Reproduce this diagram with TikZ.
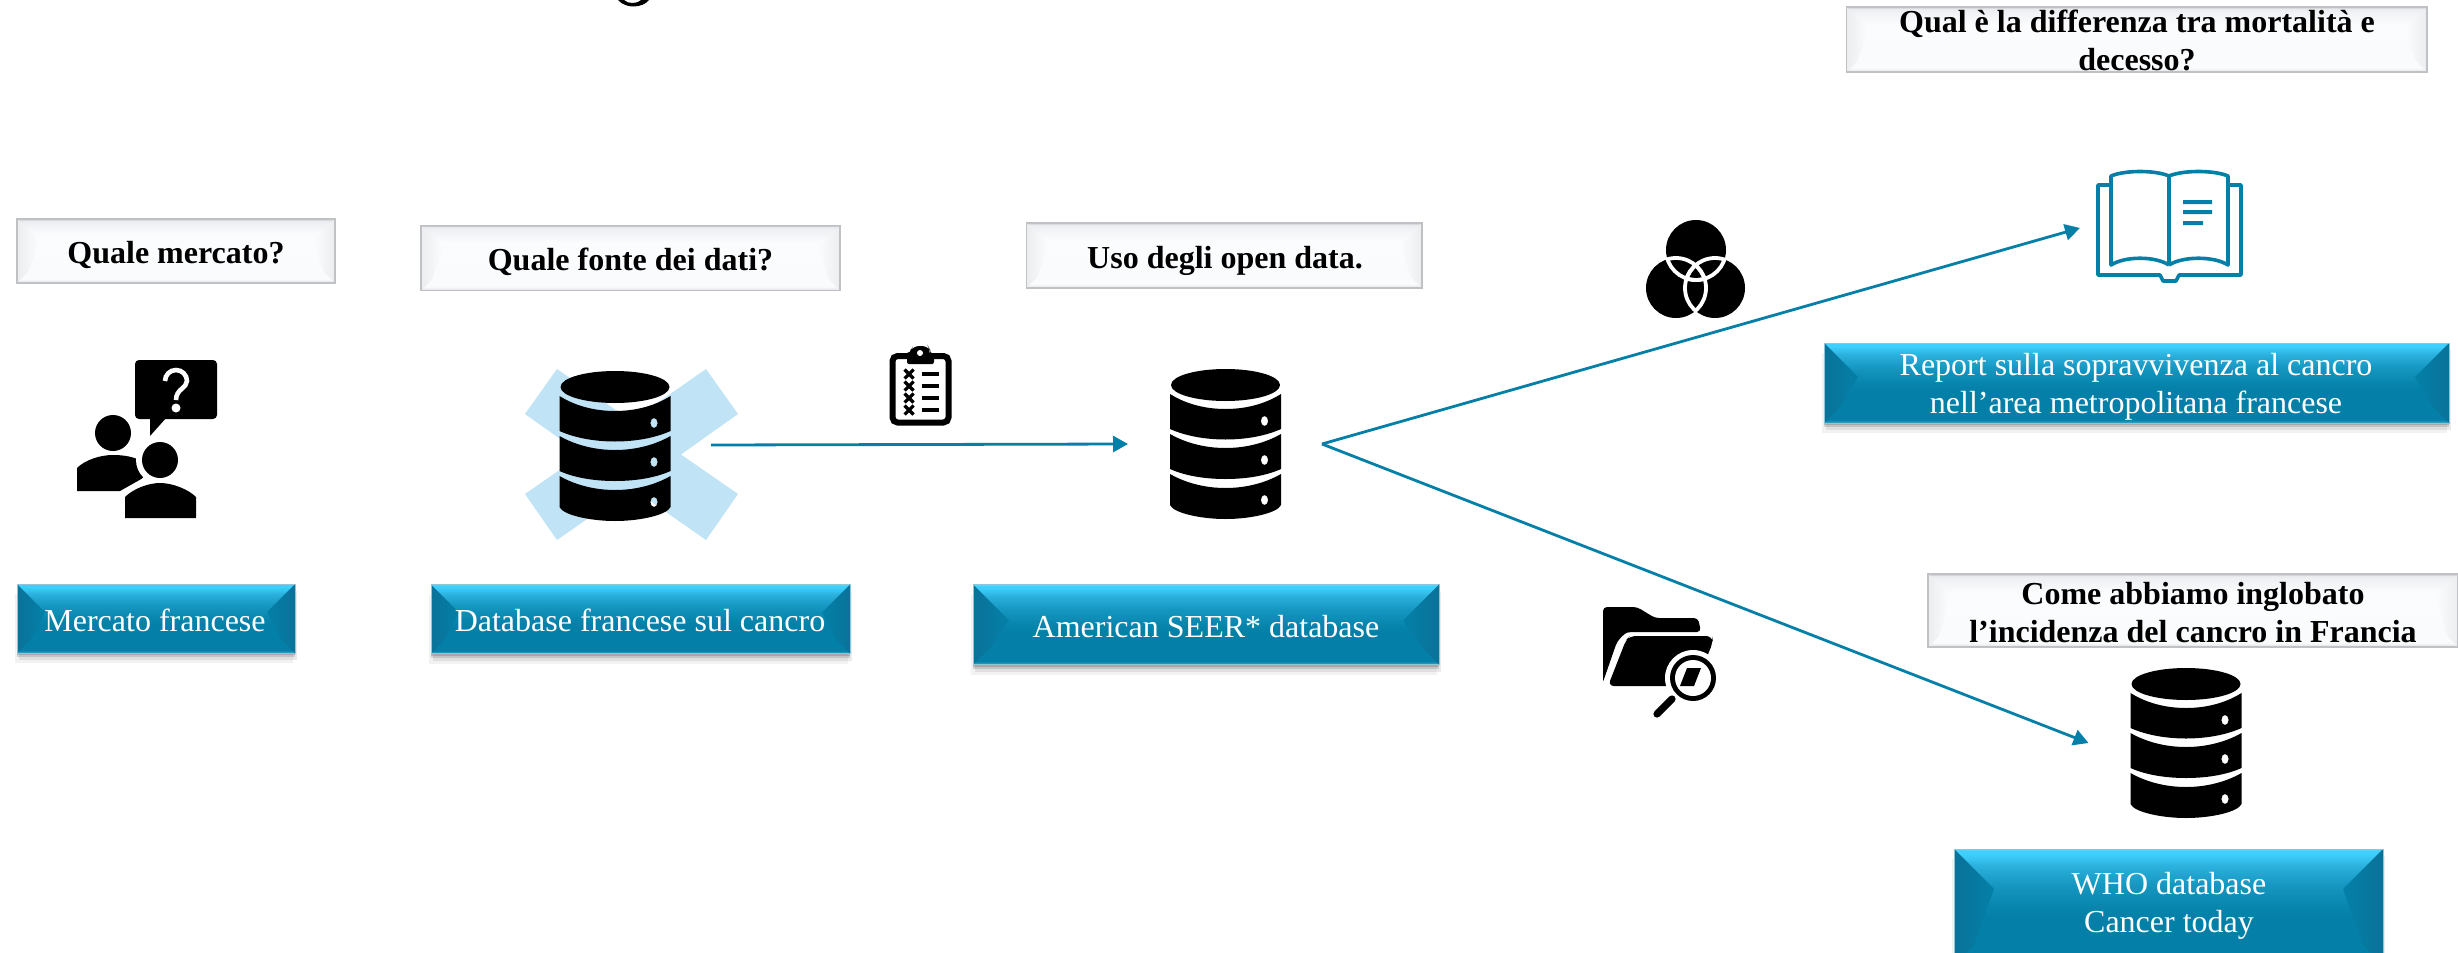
\documentclass[tikz,border=0pt]{standalone}
\usepackage{fontspec}
\setmainfont{Liberation Serif}
\usetikzlibrary{arrows.meta,shadows,calc}
\definecolor{mainblue}{HTML}{0480A8}
\definecolor{xblue}{HTML}{C0E3F6}
\definecolor{bbA}{HTML}{2CB2DE}
\definecolor{bbB}{HTML}{40D0FF}
\definecolor{bbC}{HTML}{90DDF0}
\definecolor{bbD}{HTML}{0A7299}
\definecolor{bbI}{HTML}{1698C2}
\definecolor{bbJ}{HTML}{0885AD}
\definecolor{bbK}{HTML}{2C9BC2}
\definecolor{wbA}{HTML}{C4C6CA}
\definecolor{wbB}{HTML}{E8E9EC}
\definecolor{wbC}{HTML}{FAFBFD}
\definecolor{wbD}{HTML}{FBFCFE}
\definecolor{wbE}{HTML}{EFF0F3}
\definecolor{wbF}{HTML}{E8E9EC}
\definecolor{wbG}{HTML}{AEB0B5}
\definecolor{wbH}{HTML}{ECEDEF}
\definecolor{wbI}{HTML}{BFC1C5}
\colorlet{bbH}{mainblue!45!white}
\pgfdeclareverticalshading{bluebev}{100bp}{
  color(0bp)=(bbK); color(25.6bp)=(bbK);
  color(27bp)=(mainblue);
  color(45bp)=(mainblue); color(50bp)=(bbJ); color(60bp)=(bbI);
  color(68bp)=(bbA); color(73bp)=(bbB); color(74.5bp)=(bbB);
  color(75bp)=(bbC); color(100bp)=(bbC)}
\pgfdeclareverticalshading{whitebev}{100bp}{
  color(0bp)=(wbA); color(25bp)=(wbA);
  color(26bp)=(wbB); color(28bp)=(wbC);
  color(62bp)=(wbD); color(72bp)=(wbE);
  color(74bp)=(wbF); color(75bp)=(wbG); color(100bp)=(wbG)}
\tikzset{
  x=0.5pt,y=-0.5pt,
  boxbase/.style={rectangle,inner sep=0pt,outer sep=0pt},
  bevelled/.style n args={3}{path picture={
      \coordinate (nw) at (path picture bounding box.north west);
      \coordinate (ne) at (path picture bounding box.north east);
      \coordinate (sw) at (path picture bounding box.south west);
      \coordinate (se) at (path picture bounding box.south east);
      \path[left color=#1,right color=#2]
        (nw) -- ($(nw)+(#3,-#3)$) -- ($(sw)+(#3*0.5,#3*0.5)$) -- (sw) -- cycle;
      \path[right color=#1,left color=#2]
        (ne) -- ($(ne)+(-#3,-#3)$) -- ($(se)+(-#3*0.5,#3*0.5)$) -- (se) -- cycle;
  }},
  bluebox/.style={boxbase,draw=bbH,line width=.5pt,shading=bluebev,
    bevelled={bbD}{mainblue}{#1},
    general shadow={shadow xshift=0pt,shadow yshift=-1pt,fill=black,opacity=.14},
    general shadow={shadow xshift=0pt,shadow yshift=-2pt,fill=black,opacity=.12},
    general shadow={shadow xshift=.8pt,shadow yshift=-3.5pt,fill=black,opacity=.08},
    general shadow={shadow xshift=-.8pt,shadow yshift=-5pt,fill=black,opacity=.05}},
  whitebox/.style={boxbase,draw=wbI,line width=.6pt,shading=whitebev,
    bevelled={wbH}{wbD}{11pt}},
  bluetext/.style={text=white,font=\fontsize{16}{19}\selectfont,align=center,anchor=base,inner sep=0pt},
  whitetext/.style={text=black,font=\fontsize{16}{19}\selectfont\bfseries,align=center,anchor=base,inner sep=0pt},
  flow/.style={draw=mainblue,line width=1.4pt,-{Triangle[length=7.5pt,width=8pt]}},
  icon/.style={fill=black,draw=none},
  pics/dbicon/.style={code={
    \path[icon,even odd rule]
      (0,16) ellipse [x radius=54.5,y radius=16]
      (-55.5,25) .. controls (-38,36) and (-18,40) .. (0,40) .. controls (18,40) and (38,36) .. (55.5,25)
        -- (55.5,60) .. controls (40,67) and (20,70.5) .. (0,70.5) .. controls (-20,70.5) and (-40,67) .. (-55.5,60) -- cycle
      (-55.5,65) .. controls (-38,75) and (-18,79) .. (0,79) .. controls (18,79) and (38,75) .. (55.5,65)
        -- (55.5,100) .. controls (40,107) and (20,110) .. (0,110) .. controls (-20,110) and (-40,107) .. (-55.5,100) -- cycle
      (-55.5,105) .. controls (-38,115) and (-18,119) .. (0,119) .. controls (18,119) and (38,115) .. (55.5,105)
        -- (55.5,136) .. controls (52,144) and (25,150) .. (0,150) .. controls (-25,150) and (-52,144) .. (-55.5,136) -- cycle
      (39,52) ellipse [x radius=3.6,y radius=5]
      (39,91) ellipse [x radius=3.6,y radius=5]
      (39,131) ellipse [x radius=3.6,y radius=5];
  }}
}
\begin{document}
\begin{tikzpicture}
\useasboundingbox (0,0) rectangle (2458,953);
\fill[white] (0,0) rectangle (2458,953);

% title remnant
\fill[black] (618,0) .. controls (622,4.5) and (628,6.5) .. (633,6.5) .. controls (640,6.5) and (646,4) .. (649,0)
  -- (641,0) .. controls (638,2.5) and (635,3) .. (632,3) .. controls (629,3) and (626,2) .. (624,0) -- cycle;

% question boxes
\node[whitebox,minimum width=159pt,minimum height=32pt] (q1) at (176,251) {};
\node[whitetext] (q1t) at (176,263) {Quale mercato?};
\node[whitebox,minimum width=209.5pt,minimum height=32.5pt] (q2) at (630.5,258) {};
\node[whitetext] (q2t) at (630.5,270) {Quale fonte dei dati?};
\node[whitebox,minimum width=197.75pt,minimum height=32.5pt] (q3) at (1224.25,255.5) {};
\node[whitetext] (q3t) at (1225,268) {Uso degli open data.};
\node[whitebox,minimum width=290.25pt,minimum height=32.5pt] (q4) at (2136.75,39.5) {};
\node[whitetext] (q4t) at (2137,70) {Qual è la differenza tra mortalità e\\decesso?};
\node[whitebox,minimum width=265pt,minimum height=36.5pt] (q5) at (2193,610.5) {};
\node[whitetext] (q5t) at (2193,642) {Come abbiamo inglobato\\l’incidenza del cancro in Francia};

% blue boxes
\node[bluebox=14pt,minimum width=139pt,minimum height=34.5pt] (b1) at (156,618.5) {};
\node[bluetext] (b1t) at (155,631) {Mercato francese};
\node[bluebox=14pt,minimum width=209.5pt,minimum height=34.5pt] (b2) at (640.5,619) {};
\node[bluetext] (b2t) at (640,631) {Database francese sul cancro};
\node[bluebox=18pt,minimum width=233pt,minimum height=40pt] (b3) at (1206,624.5) {};
\node[bluetext] (b3t) at (1206,637) {American SEER* database};
\node[bluebox=17pt,minimum width=312.5pt,minimum height=40pt] (b4) at (2136.5,383) {};
\node[bluetext] (b4t) at (2136,413) {Report sulla sopravvivenza al cancro\\nell’area metropolitana francese};
\node[bluebox=20pt,minimum width=214.5pt,minimum height=58pt] (b5) at (2168.5,907) {};
\node[bluetext] (b5t) at (2169,932) {WHO database\\Cancer today};

% people icon
\path[icon,rounded corners=2pt] (135,360) rectangle (217,419);
\path[icon] (150,417) -- (150,436) -- (167,417) -- cycle;
\draw[white,line width=2.3pt] (165,381) arc[start angle=180,end angle=360,radius=11] .. controls (187,388) and (176,389) .. (176,400);
\fill[white] (176,408) circle [radius=4.5];
\fill[black] (113,433) circle [radius=18];
\path[icon] (77,491) -- (77,468) .. controls (85,460) and (100,455) .. (113,455) .. controls (125,455) and (135,457) .. (143,462) -- (143,478) -- (120,491) -- cycle;
\fill[white] (160,460) circle [radius=24];
\fill[white] (120,500) -- (143,478) -- (160,476) -- (200,495) -- (160,505) -- cycle;
\fill[black] (160,460) circle [radius=18];
\path[icon] (125,518) -- (125,497) .. controls (133,489) and (148,483) .. (160,483) .. controls (172,483) and (188,489) .. (196,497) -- (196,518) -- cycle;

% crossed-out database
\fill[xblue] (557,369) -- (631.5,421) -- (706,369) -- (738,414) -- (681,454.5) -- (738,494) -- (706,540)
  -- (631.5,488) -- (557,540) -- (525,494) -- (582,454.5) -- (525,414) -- cycle;
\pic (db1) at (615,371) {dbicon};

% other databases
\pic (db2) at (1225.5,369) {dbicon};
\pic (db3) at (2186,668) {dbicon};

% clipboard
\draw[black,line width=3pt,rounded corners=2.5pt,fill=white] (892.5,356) rectangle (948.5,422.5);
\fill[black,rounded corners=2pt] (907,364) -- (907,353) -- (911,353) -- (911,350) [rounded corners=3pt] -- (913,346) -- (928,346) -- (930,350) [rounded corners=1pt] -- (930,353) -- (934,353) -- (934,364) -- cycle;
\fill[white] (920,353) circle [radius=3];
\foreach \cy in {374,386,398,410}{
  \draw[black,line width=1.6pt] (904.5,\cy-4.5) -- (913.5,\cy+4.5) (904.5,\cy+4.5) -- (913.5,\cy-4.5);
  \fill[black] (922,\cy-2) rectangle (939,\cy+2);
}

% venn icon
\coordinate (va) at (1696,250);
\coordinate (vb) at (1676,288);
\coordinate (vc) at (1715,288);
\fill[black] (va) circle [radius=30] (vb) circle [radius=30] (vc) circle [radius=30];
\foreach \p/\q in {va/vb,va/vc,vb/va,vb/vc,vc/va,vc/vb}{
  \begin{scope}
    \clip (\q) circle [radius=31];
    \draw[white,line width=1.9pt] (\p) circle [radius=30];
  \end{scope}
}

% book icon
\begin{scope}[draw=mainblue,line width=1.8pt,fill=none,line join=round]
  \draw (2111,185) -- (2098,185) -- (2098,275) -- (2160,275) -- (2163,281) -- (2176,281) -- (2179,275) -- (2241,275) -- (2241,185) -- (2228,185);
  \draw (2169,176) .. controls (2155,170) and (2125,170) .. (2111,176) -- (2111,265) .. controls (2125,256) and (2155,256) .. (2169,265);
  \draw (2169,176) .. controls (2183,170) and (2214,170) .. (2228,176) -- (2228,265) .. controls (2214,256) and (2183,256) .. (2169,265);
  \draw (2169,176) -- (2169,265);
\end{scope}
\fill[mainblue] (2183,200) rectangle (2212,204) (2183,210) rectangle (2212,214) (2183,221) rectangle (2203,225);

% folder icon
\fill[black,rounded corners=2pt] (1603,682) -- (1603,607) -- (1637,607) -- (1655,618) -- (1698,618) -- (1701,632) -- (1628,632) [rounded corners=5pt] -- (1619,636) [rounded corners=1pt] -- (1603,682) -- cycle;
\fill[black,rounded corners=3pt] (1608,686) -- (1626,640) -- (1630,636) -- (1712,636) -- (1713,642) -- (1695,686) -- cycle;
\coordinate (lens) at (1693,678);
\fill[white] (lens) circle [radius=28];
\fill[black] (lens) circle [radius=23];
\fill[white] (lens) circle [radius=18];
\begin{scope}
  \clip (lens) circle [radius=18];
  \fill[black] (1687,668) -- (1701,668) -- (1694,686) -- (1680,686) -- cycle;
\end{scope}
\draw[black,line width=3.6pt,line cap=round] (1672,699) -- (1657,714);

% connectors
\coordinate (srcfr) at (711,445);
\coordinate (dbin) at (1128,444);
\coordinate (fork) at (1322,444);
\coordinate (bookin) at (2080,228);
\coordinate (whoin) at (2088.5,743);
\draw[flow] (srcfr) -- (dbin);
\draw[flow] (fork) -- (bookin);
\draw[flow] (fork) -- (whoin);
\end{tikzpicture}
\end{document}
